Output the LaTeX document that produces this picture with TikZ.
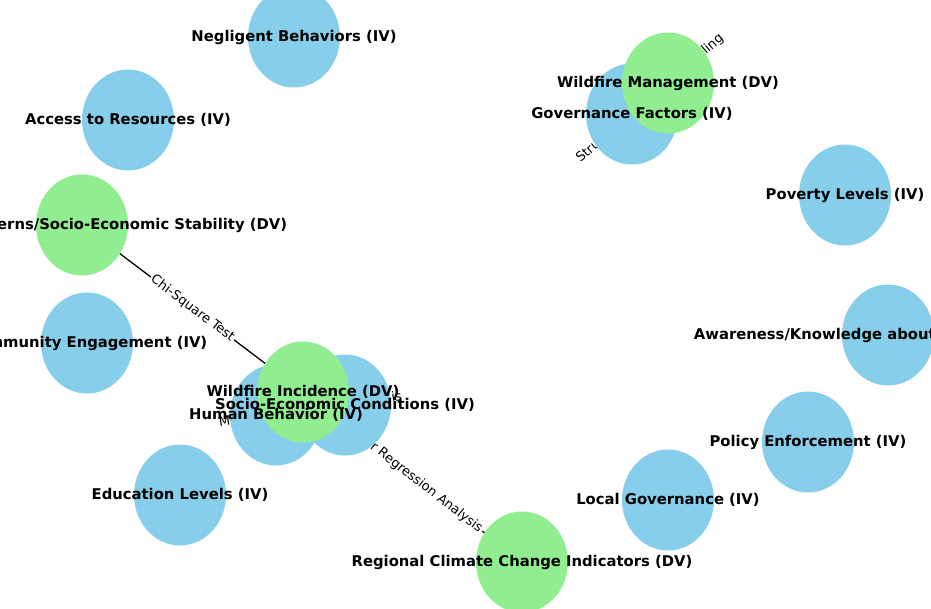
\documentclass[tikz,border=0pt]{standalone}
\usepackage{fontspec}
\setmainfont{DejaVu Sans}
\usepackage{xcolor}
\usetikzlibrary{shapes.geometric}

\definecolor{ivblue}{HTML}{87CEEB}
\definecolor{dvgreen}{HTML}{90EE90}

\pgfdeclarelayer{background}
\pgfsetlayers{background,main}

\begin{document}
\begin{tikzpicture}[x=1pt,y=-1pt,
	iv/.style={ellipse,fill=ivblue,minimum width=92pt,minimum height=101pt,inner sep=0pt},
	dv/.style={iv,fill=dvgreen},
	varlabel/.style={font=\fontsize{14.8}{17}\selectfont\bfseries,inner sep=0pt},
	testlabel/.style={font=\fontsize{13}{15}\selectfont,fill=white,inner sep=1.5pt,sloped}]
	\useasboundingbox (0,0) rectangle (931,609);
	\clip (0,0) rectangle (931,609);

	% independent variables
	\node[iv] (neg) at (294,37) {};
	\node[iv] (acc) at (128,120) {};
	\node[iv] (com) at (87,343) {};
	\node[iv] (edu) at (180,495) {};
	\node[iv] (hb) at (276,415) {};
	\node[iv] (sec) at (345,405) {};
	\node[iv] (loc) at (668,500) {};
	\node[iv] (pol) at (808,442) {};
	\node[iv] (awa) at (888,335) {};
	\node[iv] (pov) at (845,195) {};
	\node[iv] (gov) at (632,114) {};

	% dependent variables
	\node[dv] (pat) at (82,225) {};
	\node[dv] (wi) at (303,392) {};
	\node[dv] (reg) at (522,562) {};
	\node[dv] (wm) at (668,83) {};

	% labels go on top of every circle
	\node[varlabel] at (neg) {Negligent Behaviors (IV)};
	\node[varlabel] at (acc) {Access to Resources (IV)};
	\node[varlabel] at (pat) {Migration Patterns/Socio-Economic Stability (DV)};
	\node[varlabel] at (com) {Community Engagement (IV)};
	\node[varlabel] at (edu) {Education Levels (IV)};
	\node[varlabel] at (hb) {Human Behavior (IV)};
	\node[varlabel] at (sec) {Socio-Economic Conditions (IV)};
	\node[varlabel] at (wi) {Wildfire Incidence (DV)};
	\node[varlabel] at (reg) {Regional Climate Change Indicators (DV)};
	\node[varlabel] at (loc) {Local Governance (IV)};
	\node[varlabel] at (pol) {Policy Enforcement (IV)};
	\node[varlabel] at (awa) {Awareness/Knowledge about Wildfire Risk (IV)};
	\node[varlabel] at (pov) {Poverty Levels (IV)};
	\node[varlabel] at (gov) {Governance Factors (IV)};
	\node[varlabel] at (wm) {Wildfire Management (DV)};

	% tests between variables, under the circles
	\begin{pgfonlayer}{background}
		\draw[line width=1.3pt] (pat.center) -- node[testlabel] {Chi-Square Test} (wi.center);
		\draw[line width=1.3pt] (wi.center) -- node[testlabel] {Linear Regression Analysis} (reg.center);
		\draw[line width=1.3pt] (hb.center) -- node[testlabel] {Multiple Regression Analysis} (sec.center);
		\draw[line width=1.3pt] (hb.center) -- node[testlabel] {Correlation Analysis} (wi.center);
		\draw[line width=1.3pt] (gov.center) -- node[testlabel] {Structural Equation Modeling} (wm.center);
	\end{pgfonlayer}
\end{tikzpicture}
\end{document}
